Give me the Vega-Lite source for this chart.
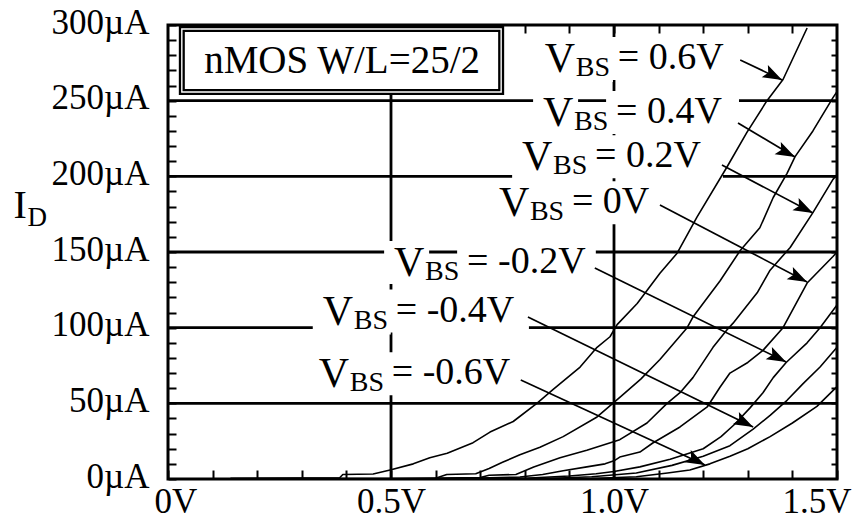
{
  "$schema": "https://vega.github.io/schema/vega-lite/v6.json",
  "width": 669,
  "height": 454,
  "autosize": "none",
  "padding": {"left": 168, "top": 25, "right": 15, "bottom": 44},
  "background": "white",
  "config": {
    "font": "Liberation Serif",
    "text": {"font": "Liberation Serif"},
    "view": {"stroke": "black", "strokeWidth": 3},
    "axis": {"grid": false, "domain": false, "titleFontWeight": "normal", "labelColor": "black", "titleColor": "black", "tickColor": "black", "labelFont": "Liberation Serif", "titleFont": "Liberation Serif"}
  },
  "resolve": {"axis": {"x": "independent", "y": "independent"}},
  "datasets": {
    "curves": [
      {"vbs":"0.6V","v":0.14,"i":0.4},{"vbs":"0.6V","v":0.385,"i":0.8},{"vbs":"0.6V","v":0.392,"i":3},{"vbs":"0.6V","v":0.46,"i":3.3},{"vbs":"0.6V","v":0.498,"i":6},{"vbs":"0.6V","v":0.55,"i":10},{"vbs":"0.6V","v":0.587,"i":14},{"vbs":"0.6V","v":0.626,"i":17},{"vbs":"0.6V","v":0.684,"i":24},{"vbs":"0.6V","v":0.722,"i":31},{"vbs":"0.6V","v":0.774,"i":38},{"vbs":"0.6V","v":0.827,"i":50},{"vbs":"0.6V","v":0.863,"i":59},{"vbs":"0.6V","v":0.924,"i":74},{"vbs":"0.6V","v":0.962,"i":87},{"vbs":"0.6V","v":0.991,"i":94},{"vbs":"0.6V","v":1.007,"i":102},{"vbs":"0.6V","v":1.052,"i":116},{"vbs":"0.6V","v":1.103,"i":136},{"vbs":"0.6V","v":1.141,"i":149},{"vbs":"0.6V","v":1.186,"i":173},{"vbs":"0.6V","v":1.253,"i":206},{"vbs":"0.6V","v":1.298,"i":229},{"vbs":"0.6V","v":1.343,"i":250},{"vbs":"0.6V","v":1.379,"i":264},{"vbs":"0.6V","v":1.433,"i":298},
      {"vbs":"0.4V","v":0.14,"i":0.2},{"vbs":"0.4V","v":0.6,"i":0.5},{"vbs":"0.4V","v":0.625,"i":3},{"vbs":"0.4V","v":0.69,"i":3.5},{"vbs":"0.4V","v":0.72,"i":7},{"vbs":"0.4V","v":0.75,"i":11},{"vbs":"0.4V","v":0.789,"i":16},{"vbs":"0.4V","v":0.834,"i":21},{"vbs":"0.4V","v":0.886,"i":28},{"vbs":"0.4V","v":0.962,"i":41},{"vbs":"0.4V","v":1.013,"i":54},{"vbs":"0.4V","v":1.06,"i":66},{"vbs":"0.4V","v":1.103,"i":79},{"vbs":"0.4V","v":1.164,"i":100},{"vbs":"0.4V","v":1.177,"i":107},{"vbs":"0.4V","v":1.238,"i":131},{"vbs":"0.4V","v":1.283,"i":151},{"vbs":"0.4V","v":1.327,"i":166},{"vbs":"0.4V","v":1.357,"i":186},{"vbs":"0.4V","v":1.388,"i":202},{"vbs":"0.4V","v":1.406,"i":213},{"vbs":"0.4V","v":1.446,"i":230},{"vbs":"0.4V","v":1.491,"i":252},{"vbs":"0.4V","v":1.5,"i":256},
      {"vbs":"0.2V","v":0.5,"i":0.2},{"vbs":"0.2V","v":0.7,"i":1},{"vbs":"0.2V","v":0.72,"i":2.5},{"vbs":"0.2V","v":0.78,"i":3},{"vbs":"0.2V","v":0.82,"i":8},{"vbs":"0.2V","v":0.879,"i":14},{"vbs":"0.2V","v":0.939,"i":19},{"vbs":"0.2V","v":1.013,"i":26},{"vbs":"0.2V","v":1.074,"i":37},{"vbs":"0.2V","v":1.119,"i":50},{"vbs":"0.2V","v":1.148,"i":57},{"vbs":"0.2V","v":1.177,"i":67},{"vbs":"0.2V","v":1.222,"i":87},{"vbs":"0.2V","v":1.253,"i":98.5},{"vbs":"0.2V","v":1.267,"i":103},{"vbs":"0.2V","v":1.321,"i":123},{"vbs":"0.2V","v":1.35,"i":138},{"vbs":"0.2V","v":1.395,"i":153},{"vbs":"0.2V","v":1.446,"i":176},{"vbs":"0.2V","v":1.491,"i":198},{"vbs":"0.2V","v":1.5,"i":201},
      {"vbs":"0V","v":0.6,"i":0.2},{"vbs":"0V","v":0.7,"i":0.6},{"vbs":"0V","v":0.789,"i":1.3},{"vbs":"0V","v":0.84,"i":3},{"vbs":"0V","v":0.886,"i":5.5},{"vbs":"0V","v":0.939,"i":8},{"vbs":"0V","v":0.98,"i":10},{"vbs":"0V","v":1.0,"i":12},{"vbs":"0V","v":1.013,"i":14.5},{"vbs":"0V","v":1.058,"i":17.8},{"vbs":"0V","v":1.087,"i":23.8},{"vbs":"0V","v":1.148,"i":34.4},{"vbs":"0V","v":1.209,"i":47.6},{"vbs":"0V","v":1.238,"i":60.8},{"vbs":"0V","v":1.26,"i":70},{"vbs":"0V","v":1.3,"i":77},{"vbs":"0V","v":1.334,"i":85},{"vbs":"0V","v":1.379,"i":100},{"vbs":"0V","v":1.433,"i":129.5},{"vbs":"0V","v":1.491,"i":147},{"vbs":"0V","v":1.5,"i":150},
      {"vbs":"-0.2V","v":0.7,"i":0.2},{"vbs":"-0.2V","v":0.8,"i":0.5},{"vbs":"-0.2V","v":0.9,"i":2},{"vbs":"-0.2V","v":0.96,"i":3.5},{"vbs":"-0.2V","v":1.0,"i":5},{"vbs":"-0.2V","v":1.058,"i":8},{"vbs":"-0.2V","v":1.126,"i":13},{"vbs":"-0.2V","v":1.2,"i":20},{"vbs":"-0.2V","v":1.24,"i":28},{"vbs":"-0.2V","v":1.27,"i":36},{"vbs":"-0.2V","v":1.305,"i":47},{"vbs":"-0.2V","v":1.334,"i":57},{"vbs":"-0.2V","v":1.357,"i":67},{"vbs":"-0.2V","v":1.386,"i":77},{"vbs":"-0.2V","v":1.433,"i":90},{"vbs":"-0.2V","v":1.462,"i":100},{"vbs":"-0.2V","v":1.5,"i":115},
      {"vbs":"-0.4V","v":0.75,"i":0.1},{"vbs":"-0.4V","v":0.85,"i":0.3},{"vbs":"-0.4V","v":0.95,"i":1.5},{"vbs":"-0.4V","v":1.05,"i":4},{"vbs":"-0.4V","v":1.13,"i":9},{"vbs":"-0.4V","v":1.2,"i":15},{"vbs":"-0.4V","v":1.26,"i":22},{"vbs":"-0.4V","v":1.312,"i":33},{"vbs":"-0.4V","v":1.35,"i":42},{"vbs":"-0.4V","v":1.388,"i":52},{"vbs":"-0.4V","v":1.424,"i":63},{"vbs":"-0.4V","v":1.462,"i":74},{"vbs":"-0.4V","v":1.5,"i":87},
      {"vbs":"-0.6V","v":0.8,"i":0.1},{"vbs":"-0.6V","v":0.95,"i":0.3},{"vbs":"-0.6V","v":1.05,"i":1.5},{"vbs":"-0.6V","v":1.12,"i":4},{"vbs":"-0.6V","v":1.17,"i":6},{"vbs":"-0.6V","v":1.215,"i":10},{"vbs":"-0.6V","v":1.26,"i":15},{"vbs":"-0.6V","v":1.3,"i":20},{"vbs":"-0.6V","v":1.35,"i":28},{"vbs":"-0.6V","v":1.4,"i":37},{"vbs":"-0.6V","v":1.455,"i":48},{"vbs":"-0.6V","v":1.5,"i":61}
    ],
    "hgrid": [{"i":50},{"i":100},{"i":150},{"i":200},{"i":250}],
    "vgrid": [{"v":0.5},{"v":1.0}],
    "labels": [
      {"vbs":"0.6V","t":"= 0.6V","lv":0.845,"li":271.0,"av":1.283,"ai":276.9,"tv":1.377,"ti":263.7},
      {"vbs":"0.4V","t":"= 0.4V","lv":0.841,"li":235.2,"av":1.278,"ai":235.2,"tv":1.406,"ti":212.8},
      {"vbs":"0.2V","t":"= 0.2V","lv":0.794,"li":206.0,"av":1.242,"ai":207.5,"tv":1.446,"ti":175.8},
      {"vbs":"0V","t":"= 0V","lv":0.742,"li":175.6,"av":1.103,"ai":181.1,"tv":1.433,"ti":130.2},
      {"vbs":"-0.2V","t":"= -0.2V","lv":0.507,"li":136.2,"av":0.957,"ai":139.4,"tv":1.386,"ti":77.3},
      {"vbs":"-0.4V","t":"= -0.4V","lv":0.347,"li":104.0,"av":0.807,"ai":107.1,"tv":1.312,"ti":34.4},
      {"vbs":"-0.6V","t":"= -0.6V","lv":0.338,"li":62.6,"av":0.791,"ai":65.4,"tv":1.204,"ti":9.3}
    ],
    "box": [{"v0":0.031,"v1":0.747,"i0":255.7,"i1":297.4,"tx":0.081,"ty":268.3,"t":"nMOS W/L=25/2"}]
  },
  "layer": [
    {
      "data": {"name": "hgrid"},
      "mark": {"type": "rule", "strokeWidth": 2.8, "color": "black"},
      "encoding": {"y": {"field": "i", "type": "quantitative", "scale": {"domain": [0, 300], "nice": false}, "axis": null}}
    },
    {
      "data": {"name": "vgrid"},
      "mark": {"type": "rule", "strokeWidth": 2.8, "color": "black"},
      "encoding": {"x": {"field": "v", "type": "quantitative", "scale": {"domain": [0, 1.5], "nice": false, "zero": false}, "axis": null}}
    },
    {
      "data": {"name": "labels"},
      "mark": {"type": "rect", "fill": "white", "xOffset": -10, "x2Offset": 35, "yOffset": 11, "y2Offset": -32},
      "encoding": {
        "x": {"field": "lv", "type": "quantitative", "axis": null},
        "x2": {"field": "lv"},
        "y": {"field": "li", "type": "quantitative", "axis": null},
        "y2": {"field": "li"}
      }
    },
    {
      "data": {"name": "labels"},
      "mark": {"type": "rect", "fill": "white", "xOffset": 30, "x2Offset": 68, "yOffset": 13, "y2Offset": -12},
      "encoding": {
        "x": {"field": "lv", "type": "quantitative", "axis": null},
        "x2": {"field": "lv"},
        "y": {"field": "li", "type": "quantitative", "axis": null},
        "y2": {"field": "li"}
      }
    },
    {
      "data": {"name": "labels"},
      "mark": {"type": "rect", "fill": "white", "xOffset": 63, "x2Offset": 1, "yOffset": 11, "y2Offset": -32},
      "encoding": {
        "x": {"field": "lv", "type": "quantitative", "axis": null},
        "x2": {"field": "av"},
        "y": {"field": "li", "type": "quantitative", "axis": null},
        "y2": {"field": "li"}
      }
    },
    {
      "data": {"name": "box"},
      "mark": {"type": "rect", "fill": "white", "stroke": "black", "strokeWidth": 6},
      "encoding": {
        "x": {"field": "v0", "type": "quantitative", "axis": null},
        "x2": {"field": "v1"},
        "y": {"field": "i0", "type": "quantitative", "axis": null},
        "y2": {"field": "i1"}
      }
    },
    {
      "data": {"name": "box"},
      "mark": {"type": "rect", "fill": null, "stroke": "white", "strokeWidth": 1.4},
      "encoding": {
        "x": {"field": "v0", "type": "quantitative", "axis": null},
        "x2": {"field": "v1"},
        "y": {"field": "i0", "type": "quantitative", "axis": null},
        "y2": {"field": "i1"}
      }
    },
    {
      "data": {"name": "box"},
      "mark": {"type": "text", "font": "Liberation Serif", "align": "left", "baseline": "alphabetic", "fontSize": 39, "color": "black"},
      "encoding": {
        "x": {"field": "tx", "type": "quantitative", "axis": null},
        "y": {"field": "ty", "type": "quantitative", "axis": null},
        "text": {"field": "t"}
      }
    },
    {
      "data": {"name": "curves"},
      "mark": {"type": "line", "color": "black", "strokeJoin": "round"},
      "encoding": {
        "x": {
          "field": "v", "type": "quantitative",
          "scale": {"domain": [0, 1.5], "nice": false, "zero": false},
          "axis": {
            "orient": "bottom", "title": null,
            "values": [0,0.1,0.2,0.3,0.4,0.5,0.6,0.7,0.8,0.9,1,1.1,1.2,1.3,1.4,1.5],
            "labelExpr": "datum.value == 0 ? '0V' : ((datum.value == 0.5 || datum.value == 1 || datum.value == 1.5) ? format(datum.value, '.1f') + 'V' : '')",
            "tickSize": -9, "tickWidth": 2, "labelFontSize": 35, "labelPadding": 14,
            "labelBaseline": "top", "labelFlush": true, "labelFlushOffset": 14, "labelOverlap": false
          }
        },
        "y": {
          "field": "i", "type": "quantitative",
          "scale": {"domain": [0, 300], "nice": false},
          "axis": {
            "orient": "left",
            "values": [0,10,20,30,40,50,60,70,80,90,100,110,120,130,140,150,160,170,180,190,200,210,220,230,240,250,260,270,280,290,300],
            "labelExpr": "datum.value % 50 == 0 ? datum.value + 'µA' : ''",
            "tickSize": -8, "tickWidth": 2, "labelFontSize": 35, "labelPadding": 27,
            "labelBaseline": "middle", "labelOffset": -3, "labelOverlap": false, "labelFlush": false,
            "title": "I", "titleAngle": 0, "titleFontSize": 40, "titleX": -155, "titleY": 192,
            "titleAlign": "left", "titleBaseline": "alphabetic"
          }
        },
        "detail": {"field": "vbs"},
        "strokeWidth": {
          "field": "vbs", "type": "nominal",
          "scale": {"domain": ["0.6V","0.4V","0.2V","0V","-0.2V","-0.4V","-0.6V"], "range": [1.6,1.6,1.6,5.5,1.6,1.6,1.6]},
          "legend": null
        }
      }
    },
    {
      "data": {"name": "labels"},
      "mark": {"type": "rule", "color": "black", "strokeWidth": 1.7},
      "encoding": {
        "x": {
          "field": "av", "type": "quantitative",
          "axis": {"orient": "top", "labels": false, "title": null, "values": [0.1,0.2,0.3,0.4,0.5,0.6,0.7,0.8,0.9,1,1.1,1.2,1.3,1.4], "tickSize": -8, "tickWidth": 2}
        },
        "x2": {"field": "tv"},
        "y": {
          "field": "ai", "type": "quantitative",
          "axis": {"orient": "right", "labels": false, "title": null, "values": [10,20,30,40,50,60,70,80,90,100,110,120,130,140,150,160,170,180,190,200,210,220,230,240,250,260,270,280,290], "tickSize": -6, "tickWidth": 2}
        },
        "y2": {"field": "ti"}
      }
    },
    {
      "data": {"name": "labels"},
      "mark": {"type": "point", "shape": "M0,0L0.7,2L0,1.6L-0.7,2Z", "size": 380, "angle": 117, "filled": true, "color": "black", "opacity": 1},
      "encoding": {
        "x": {"field": "tv", "type": "quantitative", "axis": null},
        "y": {"field": "ti", "type": "quantitative", "axis": null}
      }
    },
    {
      "data": {"name": "labels"},
      "mark": {"type": "text", "font": "Liberation Serif", "text": "V", "align": "left", "baseline": "alphabetic", "fontSize": 42, "dy": 3, "color": "black"},
      "encoding": {
        "x": {"field": "lv", "type": "quantitative", "axis": null},
        "y": {
          "field": "li", "type": "quantitative",
          "axis": {"orient": "left", "labels": false, "ticks": false, "title": "D", "titleAngle": 0, "titleFontSize": 27, "titleX": -141, "titleY": 200, "titleAlign": "left", "titleBaseline": "alphabetic"}
        }
      }
    },
    {
      "data": {"name": "labels"},
      "mark": {"type": "text", "font": "Liberation Serif", "text": "BS", "align": "left", "baseline": "alphabetic", "fontSize": 28, "dx": 31, "dy": 7, "color": "black"},
      "encoding": {
        "x": {"field": "lv", "type": "quantitative", "axis": null},
        "y": {"field": "li", "type": "quantitative", "axis": null}
      }
    },
    {
      "data": {"name": "labels"},
      "mark": {"type": "text", "font": "Liberation Serif", "align": "left", "baseline": "alphabetic", "fontSize": 38, "dx": 73, "color": "black"},
      "encoding": {
        "x": {"field": "lv", "type": "quantitative", "axis": null},
        "y": {"field": "li", "type": "quantitative", "axis": null},
        "text": {"field": "t"}
      }
    }
  ]
}
